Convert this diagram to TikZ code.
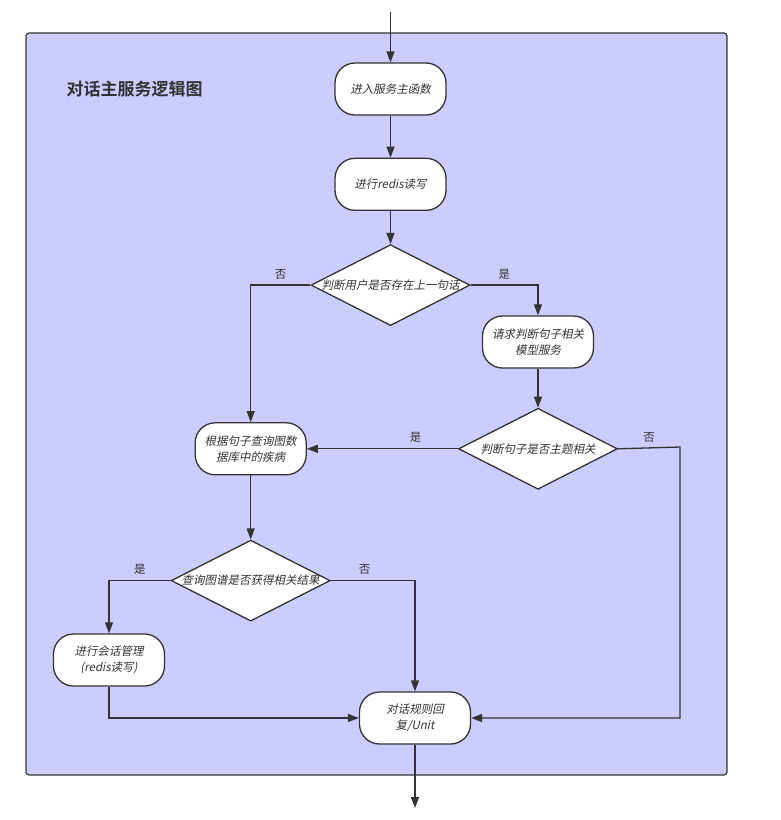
\documentclass[tikz,border=0pt]{standalone}
\usepackage{fontspec}
\usetikzlibrary{arrows.meta,positioning,shapes.geometric}
\newfontfamily\cjk{Noto Sans CJK SC}[BoldFont={Noto Sans CJK SC Bold}]
\newfontfamily\cjkit{Noto Sans CJK SC}[FakeSlant=0.2]
\definecolor{flink}{HTML}{333333}
\definecolor{flpanel}{HTML}{CCCCFF}

\begin{document}
\begin{tikzpicture}[
        x=1pt, y=1pt,
        font=\cjk\fontsize{11.5}{16}\selectfont,
        term/.style={draw=flink, line width=1.3pt, fill=white,
                     rounded corners=20pt, align=center, inner sep=2pt,
                     minimum width=111pt, minimum height=52pt,
                     font=\cjkit\fontsize{11.5}{16}\selectfont, text=flink},
        decision/.style={diamond, draw=flink, line width=1.3pt, fill=white,
                     inner sep=0pt, minimum width=159pt, minimum height=81pt},
        dtext/.style={font=\cjkit\fontsize{11.5}{16}\selectfont, text=flink},
        tag/.style={above=2pt, text=flink, font=\cjk\fontsize{11.5}{14}\selectfont},
        arr/.style={-{Triangle[length=11pt, width=8pt]}, flink, line width=1.3pt}
    ]
        \useasboundingbox (0,0) rectangle (780,-820);
        % panel
        \draw[draw=flink, line width=1.2pt, fill=flpanel, rounded corners=3pt]
            (26,-33) rectangle (727,-775);
        \node[anchor=west, text=flink, font=\cjk\bfseries\fontsize{17}{20}\selectfont]
            (title) at (63,-89) {对话主服务逻辑图};

        \coordinate (in) at (390.5,-12);
        \node[term] (enter) at (390.5,-89) {进入服务主函数};
        \node[term, below=42pt of enter] (redis) {进行redis读写};
        \node[decision, below=33pt of redis,
              label={[dtext]center:判断用户是否存在上一句话}] (hasprev) {};
        \node[term] (askmodel) at (538,-342) {请求判断句子相关\\模型服务};
        \node[decision, below=39pt of askmodel,
              label={[dtext]center:判断句子是否主题相关}] (topic) {};
        \node[term, left=151pt of topic] (query) {根据句子查询图数\\据库中的疾病};
        \node[decision, below=64pt of query,
              label={[dtext]center:查询图谱是否获得相关结果}] (graph) {};
        \node[term] (session) at (109,-660) {进行会话管理\\(redis读写)};
        \node[term] (reply) at (415,-718) {对话规则回\\复/Unit};
        \coordinate (rbend) at (680,-447);
        \coordinate (out) at (415,-808);

        \draw[arr] (in) -- (enter);
        \draw[arr] (enter) -- (redis);
        \draw[arr] (redis) -- (hasprev);
        \draw[arr] (hasprev.west) -| node[tag, pos=0.25] {否} (query.north);
        \draw[arr] (hasprev.east) -| node[tag, pos=0.25] {是} (askmodel.north);
        \draw[arr] (askmodel) -- (topic);
        \draw[arr] (topic.west) -- node[tag, pos=0.28] {是} (query.east);
        \draw[arr] (topic.east) -- node[tag, midway] {否} (rbend) |- (reply.east);
        \draw[arr] (query) -- (graph);
        \draw[arr] (graph.west) -| node[tag, pos=0.25] {是} (session.north);
        \draw[arr] (graph.east) -| node[tag, pos=0.2] {否} (reply.north);
        \draw[arr] (session.south) |- (reply.west);
        \draw[arr] (reply) -- (out);
    \end{tikzpicture}
\end{document}
